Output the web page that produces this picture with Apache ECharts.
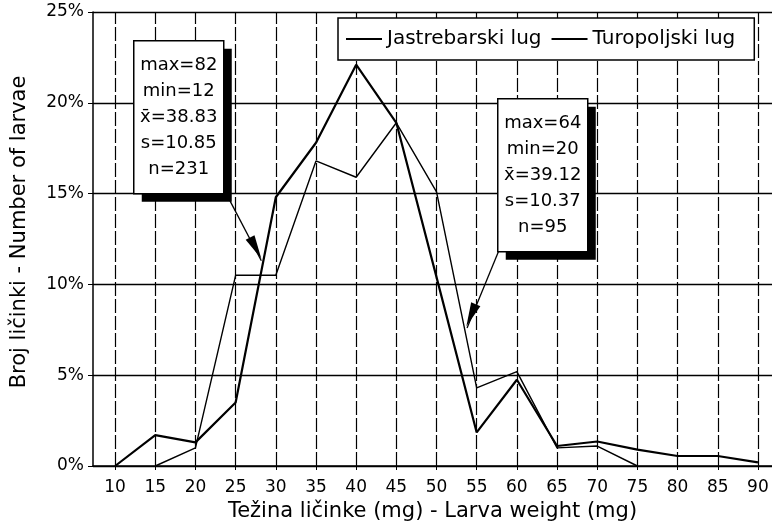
<!DOCTYPE html>
<html>
<head>
<meta charset="utf-8">
<script src="https://cdn.jsdelivr.net/npm/echarts@6/dist/echarts.min.js"></script>
<style>
  html, body { margin: 0; padding: 0; background: #fff; }
  #chart { width: 772px; height: 529px; }
</style>
</head>
<body>
<div id="chart"></div>
<script>
// tezina licinke (mg)
var weights = [10, 15, 20, 25, 30, 35, 40, 45, 50, 55, 60, 65, 70, 75, 80, 85, 90];
// udio licinki (%)
var jastrebarski = [0, 1.7, 1.3, 3.5, 14.8, 17.8, 22.1, 18.9, 10.4, 1.85, 4.75, 1.1, 1.35, 0.9, 0.55, 0.55, 0.2];
var turopoljski = [null, 0, 1.0, 10.5, 10.5, 16.8, 15.9, 18.9, 15.1, 4.3, 5.2, 1.0, 1.1, 0, null, null, null];
var statsJastrebarski = ["max=82", "min=12", "x\u0304=38.83", "s=10.85", "n=231"];
var statsTuropoljski = ["max=64", "min=20", "x\u0304=39.12", "s=10.37", "n=95"];
// strelice: [od, vrh] u koordinatama grafa, sredina glave i kut
var arrowJastrebarski = [[24.3, 14.6], [28.2, 11.3]];
var arrowTuropoljski = [[57.7, 11.8], [53.8, 7.6]];
var headJastrebarski = [27.5, 12.0];
var headTuropoljski = [54.3, 8.3];

var FONT = "DejaVu Sans";

function pairs(vals) {
  return weights.map(function (w, i) {
    return [w, vals[i]];
  });
}

function statBox(lines, x, y) {
  return {
    type: "group",
    left: x,
    top: y,
    z: 100,
    children: [
      { type: "rect", z: 100, shape: { x: 8, y: 8, width: 90, height: 153 }, style: { fill: "#000" } },
      { type: "rect", z: 101, shape: { x: 0, y: 0, width: 90, height: 153 }, style: { fill: "#fff", stroke: "#000", lineWidth: 1.5 } },
      {
        type: "text",
        z: 102,
        x: 45,
        y: 77,
        style: {
          text: lines.join("\n"),
          font: "18px '" + FONT + "'",
          lineHeight: 26,
          fill: "#000",
          align: "center",
          verticalAlign: "middle",
        },
      },
    ],
  };
}

function arrowLine(a) {
  return [{ coord: a[0] }, { coord: a[1] }];
}

var chart = echarts.init(document.getElementById("chart"));

var option = {
  animation: false,
  backgroundColor: "#fff",
  textStyle: { fontFamily: FONT, color: "#000" },
  grid: { left: 93, right: 0, top: 12, bottom: 63 },
  legend: {
    data: ["Jastrebarski lug", "Turopoljski lug"],
    left: 338,
    top: 18,
    padding: [11, 19, 11, 8],
    icon: "rect",
    itemWidth: 36,
    itemHeight: 2,
    itemGap: 10,
    backgroundColor: "#fff",
    borderColor: "#000",
    borderWidth: 1.5,
    textStyle: { fontFamily: FONT, fontSize: 20, color: "#000" },
    z: 50,
  },
  xAxis: {
    type: "value",
    min: 7.25,
    max: 91.75,
    name: "Težina ličinke (mg) - Larva weight (mg)",
    nameLocation: "middle",
    nameGap: 34,
    nameTextStyle: { fontFamily: FONT, fontSize: 21, color: "#000" },
    axisLine: { show: true, lineStyle: { color: "#000", width: 1.5 } },
    axisTick: { show: true, customValues: weights, length: 4, lineStyle: { color: "#000" } },
    axisLabel: { customValues: weights, margin: 13, fontFamily: FONT, fontSize: 17, color: "#000" },
    splitLine: { show: false },
  },
  yAxis: {
    type: "value",
    min: 0,
    max: 25,
    interval: 5,
    name: "Broj ličinki - Number of larvae",
    nameLocation: "middle",
    nameGap: 63,
    nameTextStyle: { fontFamily: FONT, fontSize: 21, color: "#000", padding: [0, 0, 0, 14] },
    axisLine: { show: true, lineStyle: { color: "#000", width: 1.5 } },
    axisTick: { show: true, length: 5, lineStyle: { color: "#000" } },
    axisLabel: { formatter: "{value}%", margin: 9, fontFamily: FONT, fontSize: 17, color: "#000" },
    splitLine: { show: true, lineStyle: { color: "#000", width: 1.3 } },
  },
  series: [
    {
      name: "Jastrebarski lug",
      type: "line",
      data: pairs(jastrebarski),
      showSymbol: false,
      symbol: "none",
      lineStyle: { color: "#000", width: 2.2 },
      itemStyle: { color: "#000" },
      markLine: {
        silent: true,
        symbol: "none",
        label: { show: false },
        lineStyle: { color: "#000", width: 1.2, type: [14, 3] },
        data: weights.map(function (w) {
          return { xAxis: w };
        }),
      },
    },
    {
      name: "Turopoljski lug",
      type: "line",
      data: pairs(turopoljski),
      showSymbol: false,
      symbol: "none",
      connectNulls: false,
      lineStyle: { color: "#000", width: 1.4 },
      itemStyle: { color: "#000" },
      markLine: {
        silent: true,
        symbol: "none",
        label: { show: false },
        lineStyle: { color: "#000", width: 1.3, type: "solid" },
        data: [arrowLine(arrowJastrebarski), arrowLine(arrowTuropoljski)],
      },
      markPoint: {
        silent: true,
        label: { show: false },
        itemStyle: { color: "#000" },
        data: [
          { coord: headJastrebarski, symbol: "triangle", symbolSize: [10, 24], symbolRotate: 208 },
          { coord: headTuropoljski, symbol: "triangle", symbolSize: [10, 24], symbolRotate: 157 },
        ],
      },
    },
  ],
  graphic: [statBox(statsJastrebarski, 133, 40), statBox(statsTuropoljski, 497, 98)],
};

chart.setOption(option);
</script>
</body>
</html>
